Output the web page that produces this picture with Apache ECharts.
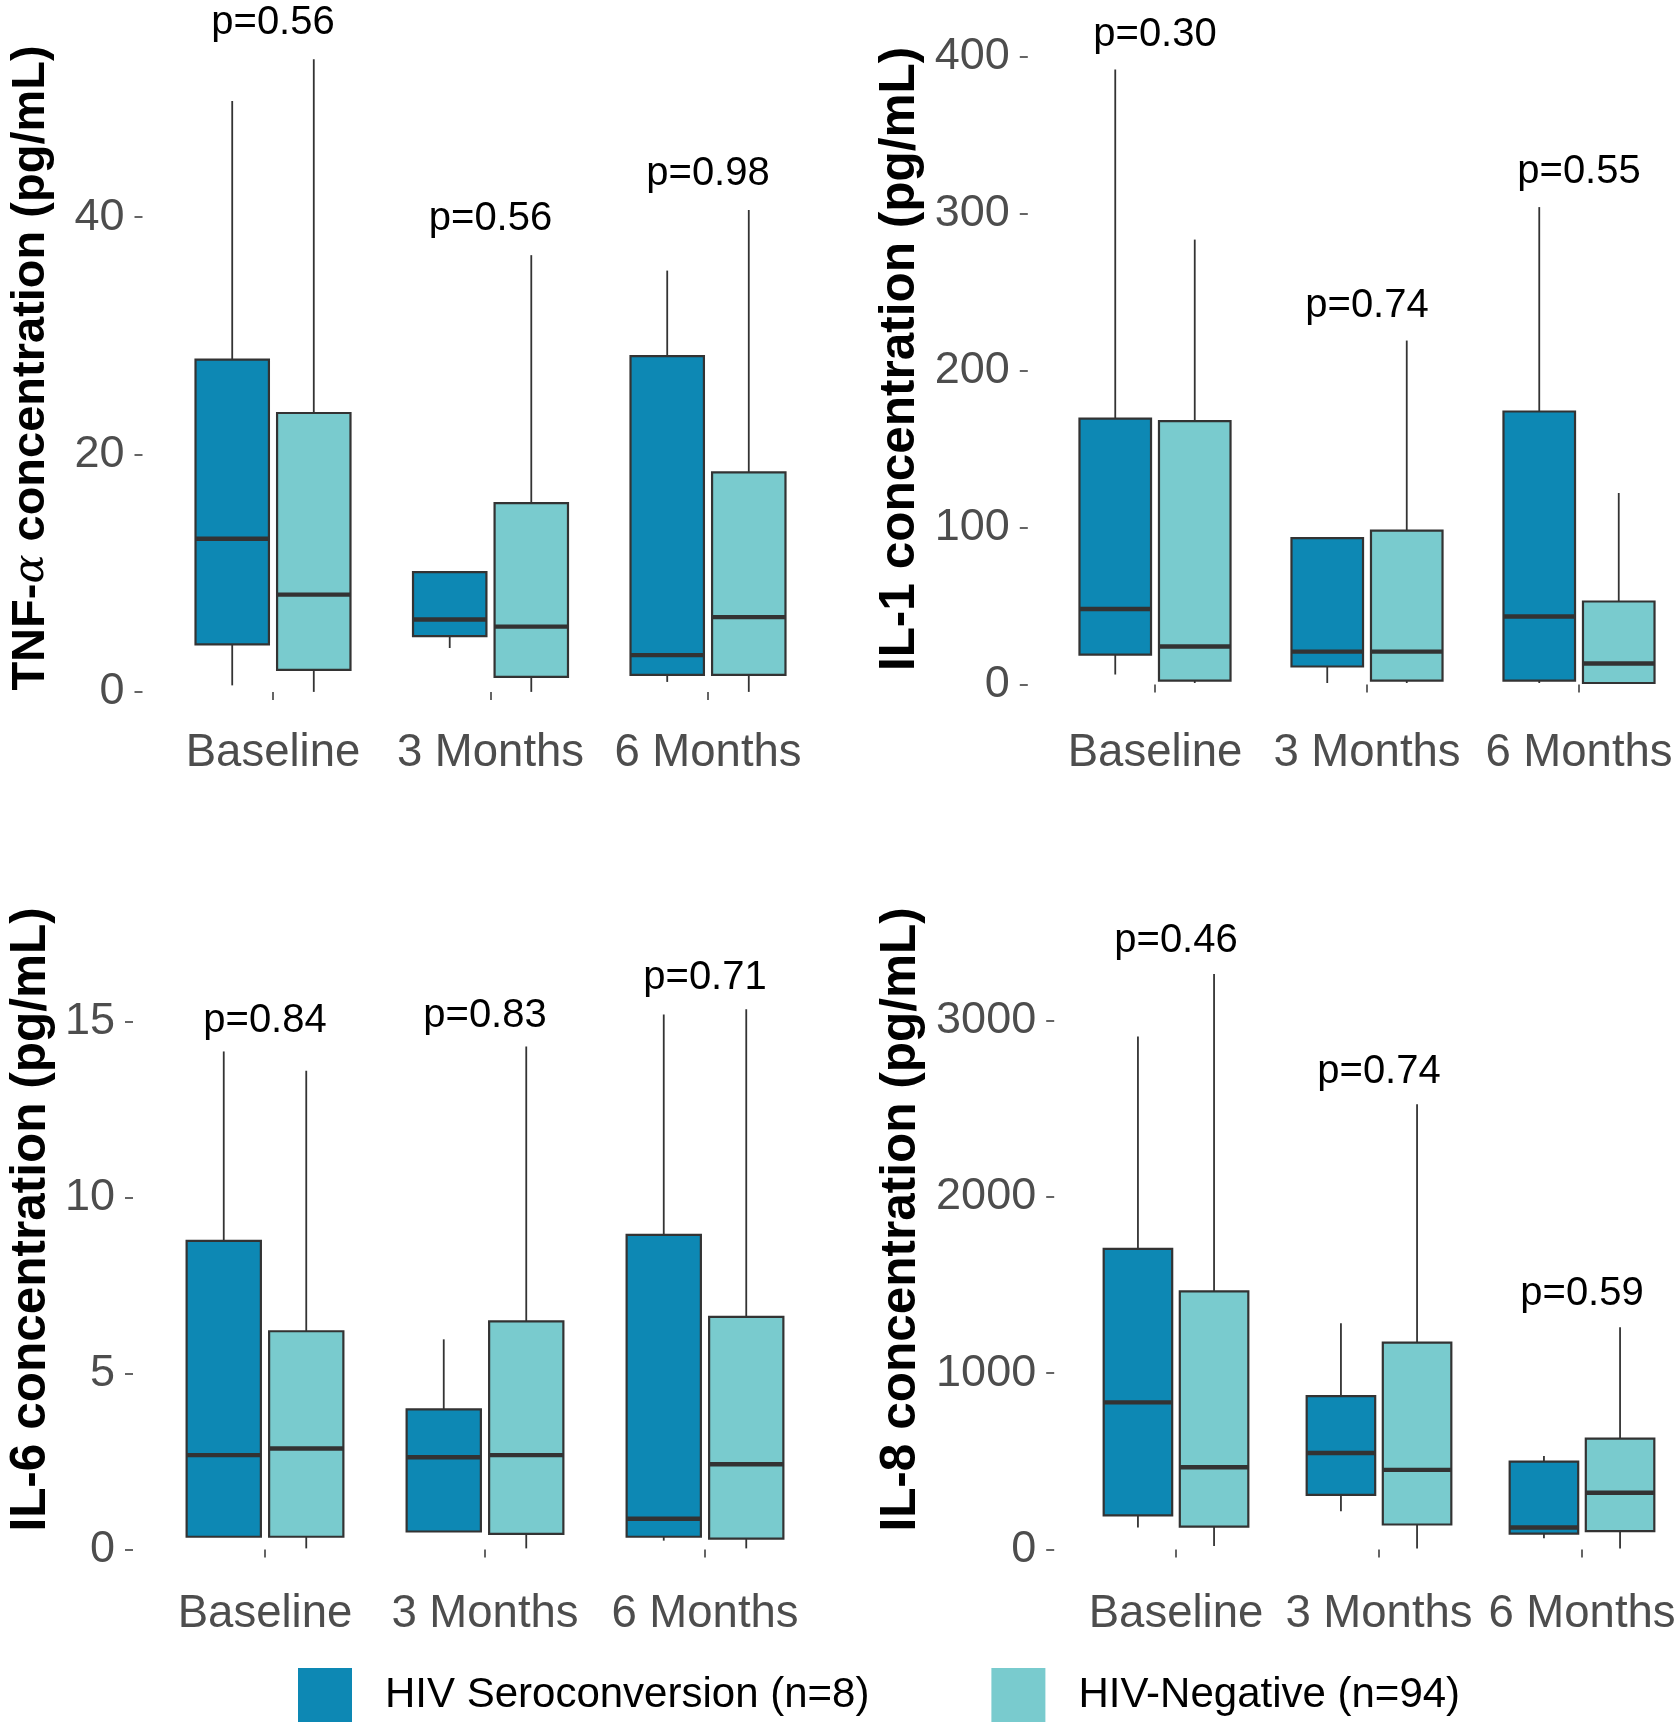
<!DOCTYPE html>
<html>
<head>
<meta charset="utf-8">
<script src="https://cdn.jsdelivr.net/npm/echarts@6/dist/echarts.min.js"></script>
<style>
html,body{margin:0;padding:0;background:#fff;}
#chart{width:1680px;height:1728px;}
</style>
</head>
<body>
<div id="chart"></div>
<script>
// ---------- DATA ----------
const categories = ['Baseline', '3 Months', '6 Months'];
const groupNames = ['HIV Seroconversion (n=8)', 'HIV-Negative (n=94)'];

// each entry: [lower whisker, Q1, median, Q3, upper whisker]
const tnfSero = [[0.55, 4.0, 12.9, 28.0, 49.8], [3.7, 4.7, 6.1, 10.1, 10.1], [0.84, 1.43, 3.1, 28.3, 35.5]];
const tnfNeg  = [[0, 1.85, 8.2, 23.5, 53.3], [0, 1.26, 5.5, 15.9, 36.8], [0, 1.43, 6.3, 18.5, 40.6]];
const il1Sero = [[6.4, 19.1, 48.1, 169.4, 391.7], [1, 11.5, 21, 93.3, 93.3], [1, 2.5, 43.3, 173.9, 304.1]];
const il1Neg  = [[1, 2.5, 24.2, 167.8, 283.4], [1, 2.5, 21, 98.1, 219.1], [0.5, 1, 13.4, 52.9, 122]];
const il6Sero = [[0.36, 0.36, 2.68, 8.77, 14.15], [0.51, 0.51, 2.62, 3.98, 5.97], [0.25, 0.36, 0.87, 8.94, 15.2]];
const il6Neg  = [[0.03, 0.36, 2.87, 6.2, 13.6], [0.03, 0.44, 2.68, 6.48, 14.29], [0.03, 0.31, 2.42, 6.61, 15.35]];
const il8Sero = [[125, 194, 835, 1705, 2910], [217, 310, 548, 870, 1284], [64, 90, 125, 499, 530]];
const il8Neg  = [[20, 130, 467, 1464, 3264], [6, 142, 452, 1174, 2525], [6, 104, 322, 629, 1261]];

const pTnf = ['p=0.56', 'p=0.56', 'p=0.98'];
const pIl1 = ['p=0.30', 'p=0.74', 'p=0.55'];
const pIl6 = ['p=0.84', 'p=0.83', 'p=0.71'];
const pIl8 = ['p=0.46', 'p=0.74', 'p=0.59'];

const ticksTnf = [0, 20, 40];
const ticksIl1 = [0, 100, 200, 300, 400];
const ticksIl6 = [0, 5, 10, 15];
const ticksIl8 = [0, 1000, 2000, 3000];

const titleTnf = 'TNF-{a|α} concentration (pg/mL)';
const titleIl1 = 'IL-1 concentration (pg/mL)';
const titleIl6 = 'IL-6 concentration (pg/mL)';
const titleIl8 = 'IL-8 concentration (pg/mL)';

// ---------- STYLE / LAYOUT ----------
const FONT = '"Liberation Sans", Arial, sans-serif';
const DARK = '#0d88b4';
const LIGHT = '#79cbce';
const EDGE = '#333333';

const panels = [
  {sero: tnfSero, neg: tnfNeg, p: pTnf, ticks: ticksTnf, title: titleTnf, titleSize: 47, titlePad: [0, 18, 0, 0],
   grid: {left: 164.25, top: 0, width: 652.5, height: 718}, yOffset: 21.75, min: -2.2, max: 58.3, nameGap: 111},
  {sero: il1Sero, neg: il1Neg, p: pIl1, ticks: ticksIl1, title: titleIl1, titleSize: 49.5, titlePad: [0, 0, 0, 0],
   grid: {left: 1049, top: 0, width: 636, height: 718}, yOffset: 21.2, min: -21.3, max: 436, nameGap: 127},
  {sero: il6Sero, neg: il6Neg, p: pIl6, ticks: ticksIl6, title: titleIl6, titleSize: 49.5, titlePad: [0, 0, 0, 0],
   grid: {left: 155, top: 860, width: 660, height: 719}, yOffset: 22, min: -0.84, max: 19.59, nameGap: 102},
  {sero: il8Sero, neg: il8Neg, p: pIl8, ticks: ticksIl8, title: titleIl8, titleSize: 49.5, titlePad: [0, 0, 0, 0],
   grid: {left: 1074.5, top: 860, width: 609, height: 719}, yOffset: 20.3, min: -167, max: 3911, nameGap: 153}
];

const BOX_W = 0.3375;   // box width as fraction of category spacing
const DODGE = 0.1875;   // dodge offset as fraction of category spacing

function boxRenderer(offsetFrac, fill) {
  return function (params, api) {
    const c = api.value(0);
    const bw = api.size([1, 0])[0];
    const cx = api.coord([c, 0])[0] + offsetFrac * bw;
    const half = BOX_W * bw / 2;
    const yMin = api.coord([c, api.value(1)])[1];
    const yQ1 = api.coord([c, api.value(2)])[1];
    const yMed = api.coord([c, api.value(3)])[1];
    const yQ3 = api.coord([c, api.value(4)])[1];
    const yMax = api.coord([c, api.value(5)])[1];
    return {
      type: 'group',
      children: [
        {type: 'line', shape: {x1: cx, y1: yQ1, x2: cx, y2: yMin}, style: {stroke: EDGE, lineWidth: 1.8}},
        {type: 'line', shape: {x1: cx, y1: yQ3, x2: cx, y2: yMax}, style: {stroke: EDGE, lineWidth: 1.8}},
        {type: 'rect', shape: {x: cx - half, y: yQ3, width: 2 * half, height: yQ1 - yQ3},
         style: {fill: fill, stroke: EDGE, lineWidth: 2.2}},
        {type: 'line', shape: {x1: cx - half, y1: yMed, x2: cx + half, y2: yMed}, style: {stroke: EDGE, lineWidth: 4.4}}
      ]
    };
  };
}

function labelRenderer(texts) {
  return function (params, api) {
    const pt = api.coord([api.value(0), api.value(1)]);
    return {
      type: 'text', x: pt[0], y: pt[1],
      style: {text: texts[params.dataIndex], fill: '#000', fontSize: 40, fontFamily: FONT,
              align: 'center', verticalAlign: 'middle'}
    };
  };
}

const grids = [], xAxes = [], yAxes = [], series = [];
panels.forEach(function (pn, i) {
  grids.push(Object.assign({outerBoundsMode: 'none', containLabel: false}, pn.grid));
  xAxes.push({
    type: 'category', gridIndex: i, data: categories,
    axisLine: {show: false},
    axisTick: {show: true, alignWithLabel: true, interval: 0, length: 8, lineStyle: {color: EDGE, width: 1.5}},
    axisLabel: {fontSize: 45.5, color: '#4d4d4d', fontFamily: FONT, margin: 12, interval: 0, hideOverlap: false},
    splitLine: {show: false}
  });
  yAxes.push({
    type: 'value', gridIndex: i, min: pn.min, max: pn.max, offset: pn.yOffset,
    axisLine: {show: false}, splitLine: {show: false},
    axisTick: {show: true, length: 8, lineStyle: {color: EDGE, width: 1.5}, customValues: pn.ticks},
    axisLabel: {fontSize: 45, color: '#4d4d4d', fontFamily: FONT, margin: 18, customValues: pn.ticks,
                formatter: function (v) { return String(v); }},
    name: pn.title, nameLocation: 'middle', nameRotate: 90, nameGap: pn.nameGap,
    nameTextStyle: {fontSize: pn.titleSize, fontWeight: 'bold', color: '#000', fontFamily: FONT, verticalAlign: 'middle',
      padding: pn.titlePad,
      rich: {a: {fontSize: pn.titleSize - 4, fontWeight: 'normal', fontStyle: 'italic', fontFamily: '"DejaVu Serif", serif', color: '#000'}}}
  });
  series.push({
    type: 'custom', name: groupNames[0], xAxisIndex: i, yAxisIndex: i, silent: true,
    itemStyle: {color: DARK},
    encode: {x: 0, y: [1, 2, 3, 4, 5]},
    data: pn.sero.map(function (d, k) { return [k].concat(d); }),
    renderItem: boxRenderer(-DODGE, DARK)
  });
  series.push({
    type: 'custom', name: groupNames[1], xAxisIndex: i, yAxisIndex: i, silent: true,
    itemStyle: {color: LIGHT},
    encode: {x: 0, y: [1, 2, 3, 4, 5]},
    data: pn.neg.map(function (d, k) { return [k].concat(d); }),
    renderItem: boxRenderer(DODGE, LIGHT)
  });
  // p-value labels: placed above the highest whisker of each time point
  let panelMax = 0;
  pn.sero.concat(pn.neg).forEach(function (d) { panelMax = Math.max(panelMax, d[4]); });
  series.push({
    type: 'custom', xAxisIndex: i, yAxisIndex: i, silent: true,
    encode: {x: 0, y: 1},
    data: categories.map(function (c, k) {
      return [k, Math.max(pn.sero[k][4], pn.neg[k][4]) + 0.057 * panelMax];
    }),
    renderItem: labelRenderer(pn.p)
  });
});

const chart = echarts.init(document.getElementById('chart'), null, {renderer: 'canvas'});
chart.setOption({
  backgroundColor: '#ffffff',
  animation: false,
  grid: grids, xAxis: xAxes, yAxis: yAxes, series: series,
  legend: {
    left: 293, top: 1663, orient: 'horizontal',
    itemWidth: 54, itemHeight: 54, itemGap: 122, selectedMode: false,
    icon: 'rect',
    textStyle: {fontSize: 42, color: '#000', fontFamily: FONT, padding: [0, 0, 0, 28]},
    data: [
      {name: groupNames[0], itemStyle: {color: DARK, borderWidth: 0}},
      {name: groupNames[1], itemStyle: {color: LIGHT, borderWidth: 0}}
    ]
  }
});
</script>
</body>
</html>
